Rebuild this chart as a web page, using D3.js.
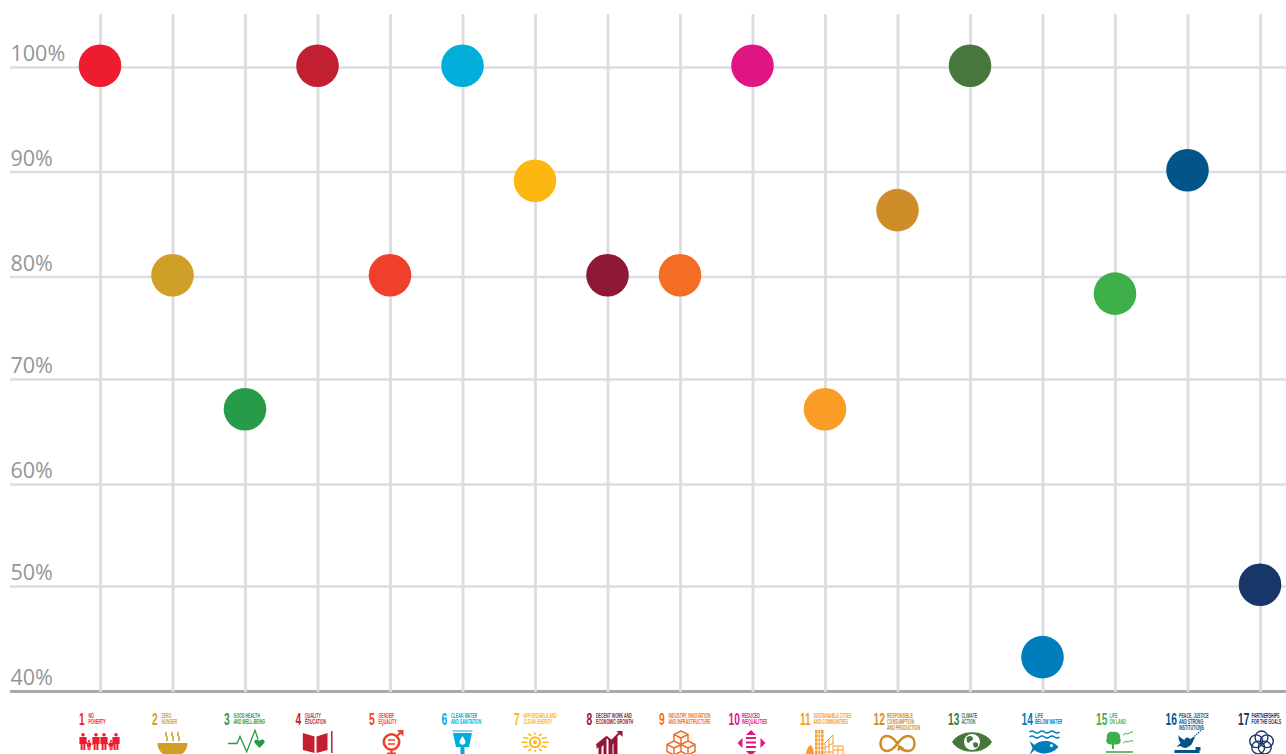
<!DOCTYPE html>
<html>
<head>
<meta charset="utf-8">
<title>SDG progress</title>
<script src="https://cdn.jsdelivr.net/npm/d3@7"></script>
<style>
  html, body { margin: 0; padding: 0; background: #fff; overflow: hidden; }
  svg { display: block; }
  .goal-text { font-family: "Liberation Sans", sans-serif; font-weight: 700; }
</style>
</head>
<body>
<div id="chart"></div>
<script>
const goals = d3.range(1, 18);
const percents = [100, 80, 67, 100, 80, 100, 89, 80, 80, 100, 67, 86.2, 100, 43.1, 78.2, 90, 50];
const colors = ["#ed1c2e", "#cf9f28", "#279b48", "#c31f33", "#ef402b", "#00aed9", "#fdb713", "#8f1838",
  "#f36d25", "#e11484", "#f99d26", "#cf8d2a", "#48773e", "#007dbc", "#3eb049", "#02558b", "#183668"];
const goalNames = [
  ["NO", "POVERTY"], ["ZERO", "HUNGER"], ["GOOD HEALTH", "AND WELL-BEING"], ["QUALITY", "EDUCATION"],
  ["GENDER", "EQUALITY"], ["CLEAN WATER", "AND SANITATION"], ["AFFORDABLE AND", "CLEAN ENERGY"],
  ["DECENT WORK AND", "ECONOMIC GROWTH"], ["INDUSTRY, INNOVATION", "AND INFRASTRUCTURE"],
  ["REDUCED", "INEQUALITIES"], ["SUSTAINABLE CITIES", "AND COMMUNITIES"],
  ["RESPONSIBLE", "CONSUMPTION", "AND PRODUCTION"], ["CLIMATE", "ACTION"], ["LIFE", "BELOW WATER"],
  ["LIFE", "ON LAND"], ["PEACE, JUSTICE", "AND STRONG", "INSTITUTIONS"], ["PARTNERSHIPS", "FOR THE GOALS"]
];
const yTicks = [40, 50, 60, 70, 80, 90, 100];

const width = 1286, height = 754;
const gridColor = "#dcdddf", axisColor = "#a7a9ac", labelColor = "#939598";

const svg = d3.select("#chart").append("svg")
  .attr("width", width)
  .attr("height", height);

const x = d3.scalePoint().domain(goals).range([100, 1260]);
// The source grid is slightly uneven, so the scale follows the measured lines.
const y = d3.scaleLinear().domain(yTicks).range([691, 586, 484, 379, 276.5, 171.5, 67]);

// Horizontal grid and % labels.
const yAxis = svg.append("g")
  .attr("transform", "translate(10,0)")
  .call(d3.axisRight(y).tickValues(yTicks).tickSize(width - 10).tickFormat(d => d + "%"));
yAxis.select(".domain").remove();
yAxis.selectAll(".tick line")
  .attr("stroke", d => d === 40 ? axisColor : gridColor)
  .attr("stroke-width", d => d === 40 ? 3 : 2.6);
yAxis.selectAll(".tick text")
  .attr("x", 0.5)
  .attr("dy", 0)
  .attr("y", -6.5)
  .attr("text-anchor", "start")
  .attr("fill", labelColor)
  .attr("font-family", "'Open Sans', sans-serif")
  .attr("font-weight", 500)
  .attr("font-size", 21.5);

// Vertical grid, one line per goal.
const xAxis = svg.append("g")
  .attr("transform", "translate(0,692)")
  .call(d3.axisTop(x).tickSize(678).tickFormat(""));
xAxis.select(".domain").remove();
xAxis.selectAll(".tick line")
  .attr("stroke", gridColor)
  .attr("stroke-width", 2.8);

// Dots sit a little above their grid line in the source.
svg.append("g")
  .selectAll("circle")
  .data(goals)
  .join("circle")
    .attr("cx", d => x(d))
    .attr("cy", (d, i) => y(percents[i]) - 1.3)
    .attr("r", 21.3)
    .attr("fill", (d, i) => colors[i]);

// Left edge of each goal number, relative to its grid line.
const numberShift = [-21, -20.5, -21, -22, -21, -21, -21, -21, -21, -24, -25, -24, -22, -21, -19, -22, -22];

const labels = svg.append("g")
  .selectAll("g")
  .data(goals)
  .join("g")
    .attr("class", "goal-text")
    .attr("transform", (d, i) => `translate(${x(d) + numberShift[i]},0)`)
    .attr("fill", (d, i) => colors[i]);

labels.append("text")
  .attr("transform", "translate(0,725) scale(0.62,1)")
  .attr("font-size", 16.5)
  .text(d => d);

labels.each(function(d, i) {
  const textX = d > 9 ? 13.5 : 9.5;
  d3.select(this).selectAll("text.line")
    .data(goalNames[i])
    .join("text")
      .attr("class", "line")
      .attr("transform", (t, j) => `translate(${textX},${718 + j * 6.2}) scale(0.53,1)`)
      .attr("font-size", 6.8)
      .text(t => t);
});

// Goal pictograms, local origin on the grid line at y = 731.
function person(g, cx, top, s, c) {
  g.append("circle").attr("cx", cx).attr("cy", top + 1.8 * s).attr("r", 1.8 * s).attr("fill", c);
  g.append("path").attr("fill", c)
    .attr("d", `M${cx - 3.6 * s},${top + 4 * s}H${cx + 3.6 * s}L${cx + 3.6 * s},${top + 11 * s}H${cx + 2.4 * s}V${top + 17 * s}H${cx + .4 * s}V${top + 11 * s}H${cx - .4 * s}V${top + 17 * s}H${cx - 2.4 * s}V${top + 11 * s}H${cx - 3.6 * s}Z`);
}

const icons = [
  (g, c) => {
    [-17, -4, 4, 16].forEach(px => person(g, px, 2, 1, c));
    [-11, 11].forEach(px => person(g, px, 9, 0.6, c));
    g.append("path").attr("fill", "none").attr("stroke", c).attr("stroke-width", 1)
      .attr("d", "M-14,11L-11,14M-8,14L-6,11M6,11L9,14M13,14L14,11");
  },
  (g, c) => {
    g.append("path").attr("fill", c).attr("d", "M-15,12H15C15,20 9,24 5,25H-5C-9,24 -15,20 -15,12Z");
    [-6, 0, 6].forEach(px => g.append("path").attr("fill", "none").attr("stroke", c).attr("stroke-width", 1.5)
      .attr("d", `M${px},1C${px - 3},4 ${px + 3},6 ${px},10`));
  },
  (g, c) => {
    g.append("path").attr("fill", "none").attr("stroke", c).attr("stroke-width", 1.3)
      .attr("d", "M-17,12.5H-8L-5,5.5L1.7,20.7L10,-0.7L13,8");
    g.append("path").attr("fill", c).attr("d", "M14.5,17L9.8,12C8,9 12.5,7 14.5,10C16.5,7 21,9 19.2,12Z");
  },
  (g, c) => {
    g.append("path").attr("fill", c).attr("d", "M-14.7,2L-3,5.5V22L-14.7,19Z");
    g.append("path").attr("fill", c).attr("d", "M-1,5.5L10,2V19L-1,22Z");
    g.append("path").attr("fill", "none").attr("stroke", c).attr("stroke-width", 1.5).attr("d", "M14.3,0V22");
  },
  (g, c) => {
    g.append("circle").attr("cx", 1.5).attr("cy", 11).attr("r", 7.7).attr("fill", "none").attr("stroke", c).attr("stroke-width", 2.6);
    g.append("path").attr("fill", "none").attr("stroke", c).attr("stroke-width", 2.2).attr("d", "M7,5L12,0M1.5,19V24M-3,22.5H6");
    g.append("path").attr("fill", c).attr("d", "M7,-1H13.5V5.5L11.5,3.5L9,1Z");
    g.append("path").attr("fill", "none").attr("stroke", c).attr("stroke-width", 1.6).attr("d", "M-2,9H5M-2,13H5");
  },
  (g, c) => {
    g.append("path").attr("fill", "none").attr("stroke", c).attr("stroke-width", 1).attr("d", "M-10,0H10");
    g.append("path").attr("fill", c).attr("d", "M-9.5,2H9.5L6.5,16H2V24H-2V16H-6.5Z");
    g.append("path").attr("fill", "#fff").attr("d", "M0,5C-1,7 -3,9 -3,11C-3,14.5 3,14.5 3,11C3,9 1,7 0,5Z");
  },
  (g, c) => {
    g.append("circle").attr("cy", 11.3).attr("r", 5).attr("fill", "none").attr("stroke", c).attr("stroke-width", 2);
    g.append("circle").attr("cy", 11.3).attr("r", 2).attr("fill", c);
    d3.range(12).forEach(k => {
      const a = k * Math.PI / 6;
      g.append("line").attr("stroke", c).attr("stroke-width", 1.5)
        .attr("x1", 7.5 * Math.cos(a)).attr("y1", 11.3 + 7.5 * Math.sin(a))
        .attr("x2", 13.5 * Math.cos(a)).attr("y2", 11.3 + 9.8 * Math.sin(a));
    });
  },
  (g, c) => {
    g.append("path").attr("fill", c).attr("d", "M-11,14L-1,6V24H-4V14L-6,16V24H-9V16L-11,18Z");
    g.append("path").attr("fill", c).attr("d", "M2,7L4,10L10,5V24H6V12L5,14V24H1V8Z");
    g.append("path").attr("fill", "none").attr("stroke", c).attr("stroke-width", 2).attr("d", "M-11,14L-1,6L4,10L13,1");
    g.append("path").attr("fill", c).attr("d", "M9,0H15V6Z");
  },
  (g, c) => {
    g.append("path").attr("fill", "none").attr("stroke", c).attr("stroke-width", 1.5).attr("stroke-linejoin", "round")
      .attr("d", "M1,0L8,3.5V10L1,13.5L-6,10V3.5ZM-6,3.5L1,7L8,3.5M1,7V13.5M-6,10L-13,13.5V20.5L-6,24L1,20.5L8,24L15,20.5V13.5L8,10M-13,13.5L-6,17L1,13.5L8,17L15,13.5M-6,17V24M8,17V24M1,13.5V20.5");
  },
  (g, c) => {
    g.append("path").attr("fill", c).attr("d", "M-1.5,-1L3.5,4H-6.5ZM-15,12L-10,7V17ZM13,12L8,7V17ZM-1.5,25L3.5,20H-6.5Z");
    g.append("path").attr("fill", "none").attr("stroke", c).attr("stroke-width", 2).attr("d", "M-6.5,7H3.5M-6.5,11.5H3.5M-6.5,16H3.5");
  },
  (g, c) => {
    g.append("rect").attr("x", -10).attr("y", -1).attr("width", 8.5).attr("height", 25).attr("fill", c);
    g.append("path").attr("fill", c).attr("d", "M-19,24C-19,18 -16,15 -14.5,14C-13,15 -11,18 -11,24Z");
    g.append("path").attr("fill", "none").attr("stroke", c).attr("stroke-width", 1)
      .attr("d", "M0,24V12L8,4V24M0,17L8,12M0,21H8M4,8V24M8.5,15H18V24H8.5M8.5,19H18M13,15V24");
    g.append("path").attr("stroke", "#fff").attr("stroke-width", .8).attr("d", "M-7,-1V24M-4.5,-1V24M-10,3H-1.5M-10,7H-1.5M-10,11H-1.5M-10,15H-1.5M-10,19H-1.5");
  },
  (g, c) => {
    g.append("path").attr("fill", "none").attr("stroke", c).attr("stroke-width", 2.6)
      .attr("d", "M0,12.5C-4,7 -7,5 -10.5,5C-15,5 -17,9 -17,12.5C-17,16 -15,20 -10.5,20C-7,20 -4,18 0,12.5C4,7 7,5 10.5,5C15,5 17,9 17,12.5C17,16 15,20 10.5,20C7,20 5,19 2.5,16.5");
    g.append("path").attr("fill", c).attr("d", "M0,20L0.5,13.5L7,17Z");
  },
  (g, c) => {
    g.append("path").attr("fill", c).attr("d", "M-18,11C-10,-2 14,-2 22,11C14,24 -10,24 -18,11Z");
    g.append("circle").attr("cx", 2).attr("cy", 11).attr("r", 8).attr("fill", "#fff");
    g.append("path").attr("fill", c).attr("d", "M-3,6C0,4 3,5 3,8C3,10 0,9 -1,12C-3,12 -4,9 -3,6ZM3,12C6,10 9,12 8,15C6,18 3,17 3,12Z");
  },
  (g, c) => {
    [1, 6].forEach(py => g.append("path").attr("fill", "none").attr("stroke", c).attr("stroke-width", 1.6)
      .attr("d", `M-13,${py}q2.5,-2 5,0t5,0t5,0t5,0t5,0t5,0`));
    g.append("path").attr("fill", c).attr("d", "M-13,10L-8,14C-3,9 9,8 16,16C9,24 -3,24 -8,19L-13,24L-10,17Z");
    g.append("circle").attr("cx", 9).attr("cy", 14.5).attr("r", 1.5).attr("fill", "#fff");
  },
  (g, c) => {
    g.append("path").attr("fill", c).attr("d", "M-2,1C3,0 6,4 5,7C7,10 5,14 1,13.5H-1V18H-3V13.5C-8,14 -10,10 -8,7C-9,3 -6,0 -2,1Z");
    g.append("path").attr("fill", "none").attr("stroke", c).attr("stroke-width", 1).attr("d", "M8,4Q11,1 13,3Q15,1 18,1M8,12Q11,9 13,11Q15,9 18,10");
    g.append("path").attr("fill", "none").attr("stroke", c).attr("stroke-width", 1.6).attr("d", "M-9,21H18");
  },
  (g, c) => {
    g.append("path").attr("fill", c).attr("d", "M-9,4C-7,7 -5,8 -3,9C-2,6 1,6 2,8L8,6C5,9 6,13 2,15C-1,18 -5,17 -7,15L-11,16L-7,12C-9,9 -9,7 -9,4Z");
    g.append("path").attr("fill", "none").attr("stroke", c).attr("stroke-width", 1.1).attr("stroke-dasharray", "1.5 1").attr("d", "M5,7L14,-1");
    g.append("path").attr("fill", c).attr("d", "M-13,19H8V16H13V19.5H12V22H-13Z");
  },
  (g, c) => {
    d3.range(5).forEach(k => {
      const a = -Math.PI / 2 + k * 2 * Math.PI / 5;
      g.append("circle").attr("cx", 1.5 + 5.6 * Math.cos(a)).attr("cy", 12 + 5.6 * Math.sin(a)).attr("r", 6.4)
        .attr("fill", "none").attr("stroke", c).attr("stroke-width", 1.4);
    });
  }
];

svg.append("g")
  .selectAll("g")
  .data(goals)
  .join("g")
    .attr("transform", d => `translate(${x(d)},731)`)
    .each(function(d, i) { icons[i](d3.select(this), colors[i]); });
</script>
</body>
</html>
